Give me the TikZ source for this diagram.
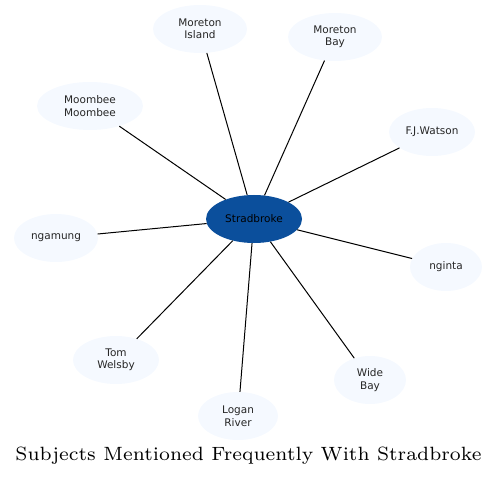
\documentclass[tikz,border=0pt]{standalone}
\usepackage{fontspec}
\newfontfamily\dejavu{DejaVu Sans}
\newfontfamily\titlefont{lmroman7-regular.otf}
\usetikzlibrary{shapes.geometric}
\definecolor{leaf}{HTML}{F5F9FF}
\definecolor{hub}{HTML}{0B4F9C}
\tikzset{
  leafnode/.style={ellipse, fill=leaf, draw=none, inner sep=0pt, minimum height=48pt, font=\dejavu\fontsize{10.5}{12.5}\selectfont, align=center, text=black!85},
  hubnode/.style={ellipse, fill=hub, draw=none, inner sep=0pt, minimum width=96pt, minimum height=48pt, font=\dejavu\fontsize{10.5}{12.5}\selectfont, text=black},
  link/.style={draw=black, line width=1pt}
}
\begin{document}
\begin{tikzpicture}[x=1pt,y=-1pt]
\useasboundingbox (0,0) rectangle (497,478);
\node[hubnode] (s) at (254,219) {Stradbroke};
\node[leafnode, minimum width=94pt] (mi) at (200,29) {Moreton\\Island};
\node[leafnode, minimum width=94pt] (mb) at (335,37) {Moreton\\Bay};
\node[leafnode, minimum width=106pt] (mm) at (90,106) {Moombee\\Moombee};
\node[leafnode, minimum width=86pt] (fj) at (432,132) {F.J.Watson};
\node[leafnode, minimum width=84pt] (ng) at (56,238) {ngamung};
\node[leafnode, minimum width=72pt] (nt) at (446,267) {nginta};
\node[leafnode, minimum width=86pt] (tw) at (116,360) {Tom\\Welsby};
\node[leafnode, minimum width=72pt] (wb) at (370,380) {Wide\\Bay};
\node[leafnode, minimum width=80pt] (lr) at (238,416) {Logan\\River};
\node[font=\titlefont\fontsize{19.2}{23}\selectfont] (title) at (248.5,456) {Subjects Mentioned Frequently With Stradbroke};
\foreach \n in {mi,mb,mm,fj,ng,nt,tw,wb,lr} {
  \draw[link] (s) -- (\n);
}
\end{tikzpicture}
\end{document}
